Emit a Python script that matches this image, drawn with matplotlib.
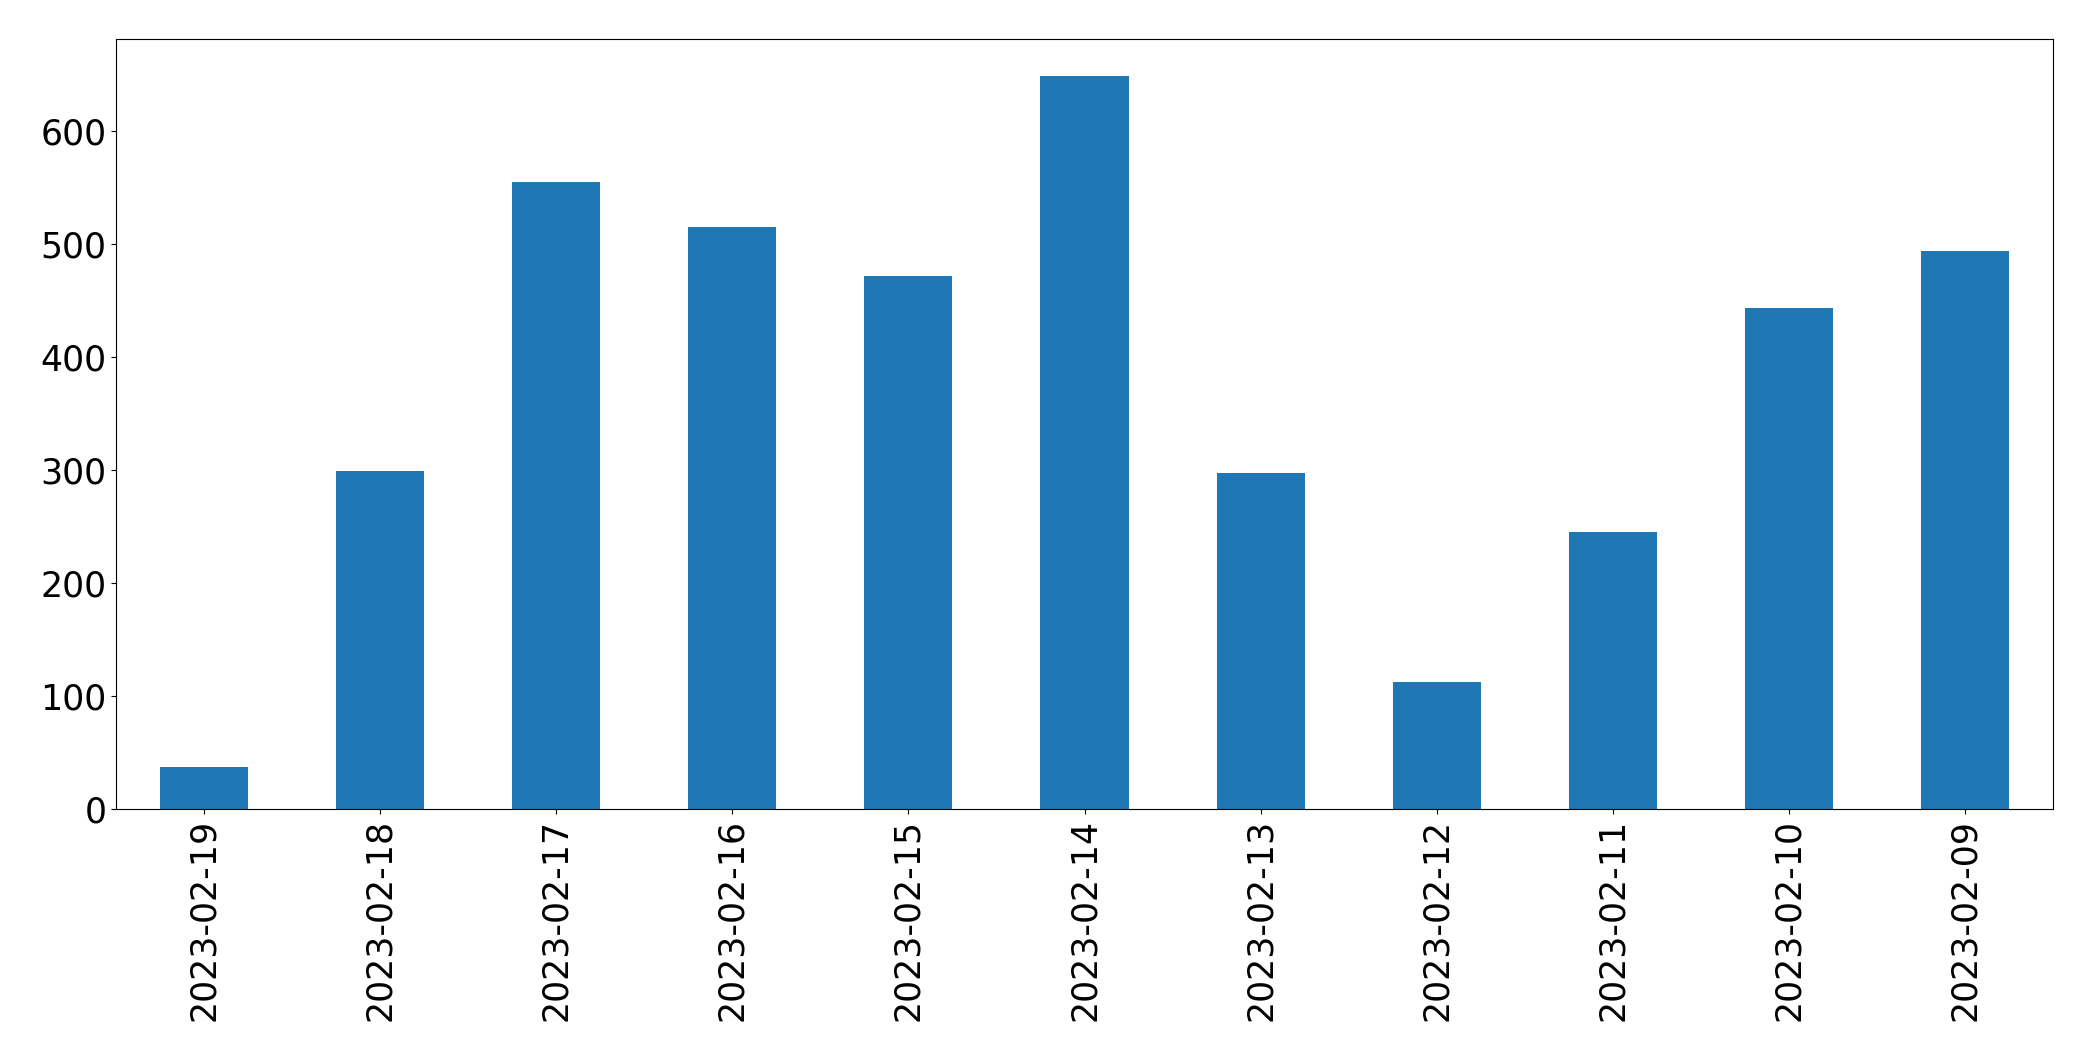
import matplotlib
matplotlib.use("Agg")
import matplotlib.pyplot as plt
import numpy as np

dates = [
    "2023-02-19", "2023-02-18", "2023-02-17", "2023-02-16", "2023-02-15",
    "2023-02-14", "2023-02-13", "2023-02-12", "2023-02-11", "2023-02-10",
    "2023-02-09",
]
counts = [37, 299, 555, 515, 472, 649, 297, 112, 245, 443, 494]

fig = plt.figure(figsize=(20.93, 10.61), dpi=100)
ax = fig.add_axes([116 / 2093, 1 - 809 / 1061, (2053 - 116) / 2093, (809 - 39) / 1061])

x = np.arange(len(dates))
ax.bar(x, counts, width=0.5, color="#1f77b4")
ax.set_xlim(-0.5, len(dates) - 0.5)
ax.set_ylim(0, max(counts) * 1.05)
ax.set_xticks(x)
ax.set_xticklabels(dates, rotation=90)
ax.tick_params(axis="both", labelsize=25)

fig.savefig("out.png", dpi=100, facecolor="white")
